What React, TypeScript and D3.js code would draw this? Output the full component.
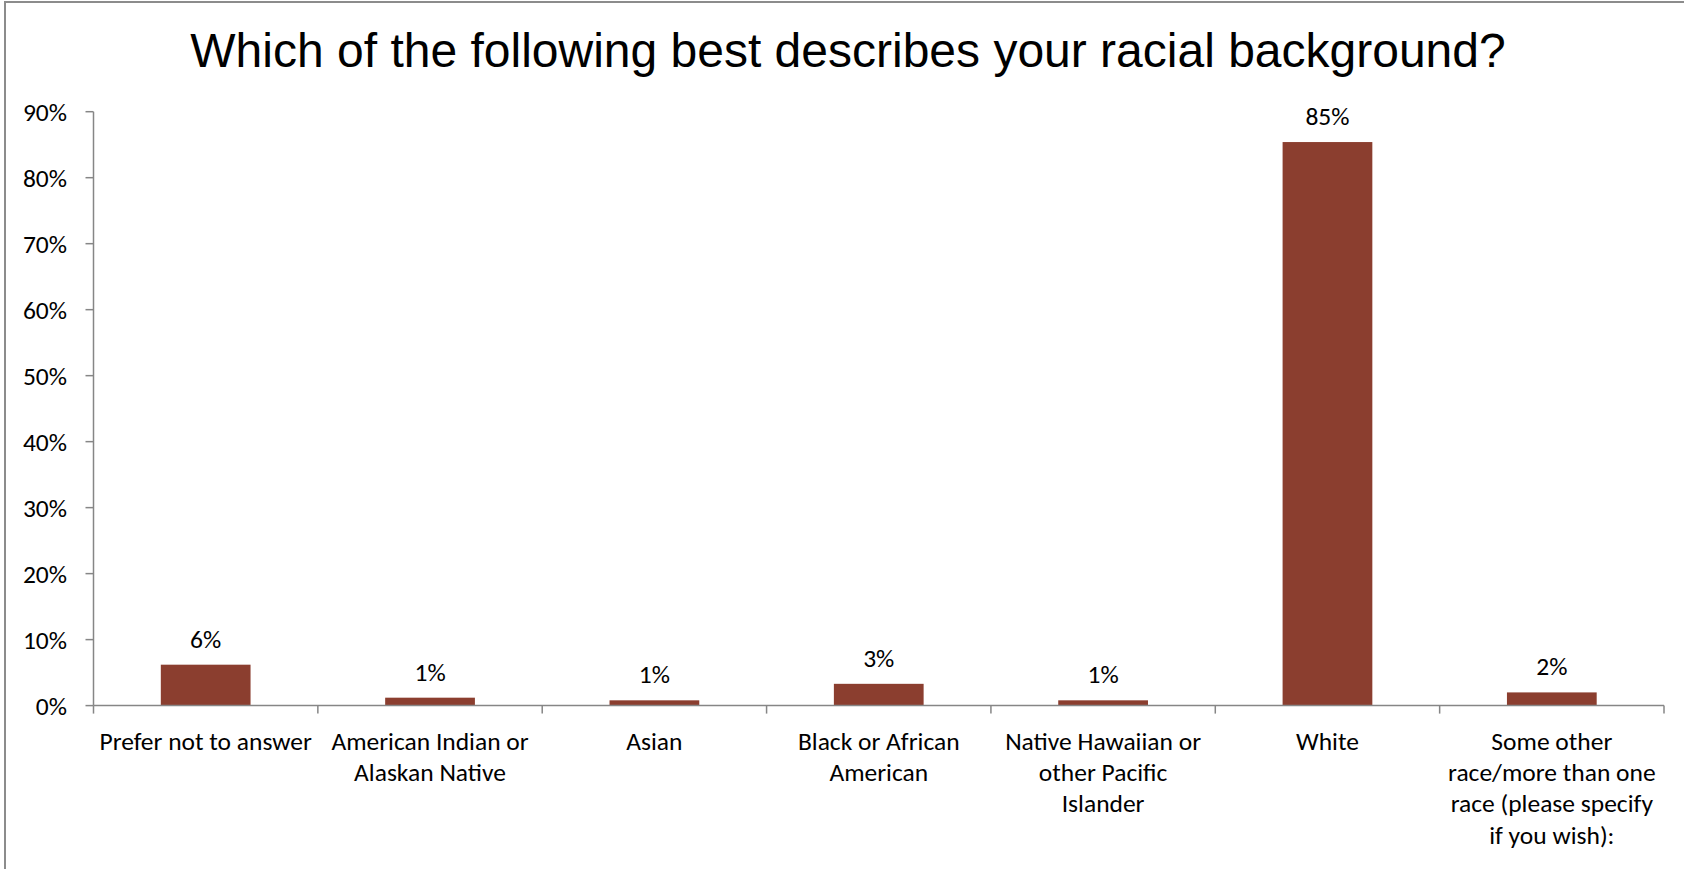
import React from "react";
import * as d3 from "d3";

const title = "Which of the following best describes your racial background?";
const categories = [
  "Prefer not to answer",
  "American Indian or Alaskan Native",
  "Asian",
  "Black or African American",
  "Native Hawaiian or other Pacific Islander",
  "White",
  "Some other race/more than one race (please specify if you wish):",
];
const categoryLines = [
  ["Prefer not to answer"],
  ["American Indian or", "Alaskan Native"],
  ["Asian"],
  ["Black or African", "American"],
  ["Native Hawaiian or", "other Pacific", "Islander"],
  ["White"],
  ["Some other", "race/more than one", "race (please specify", "if you wish):"],
];
const values = [0.062, 0.012, 0.008, 0.033, 0.008, 0.854, 0.02];
const yTicks = [0, 0.1, 0.2, 0.3, 0.4, 0.5, 0.6, 0.7, 0.8, 0.9];

const W = 1684;
const H = 869;
const left = 93.5;
const right = 1664;
const top = 111.7;
const bottom = 705.6;
const bodyFont = "Carlito, Calibri, Lato, 'Open Sans', sans-serif";
const bodySize = 25.5;
const barColor = "#8B3E2F";
const axisColor = "#868686";

export default function App() {
  const x = d3.scaleBand<string>().domain(categories).range([left, right]).paddingInner(0.6).paddingOuter(0.3);
  const xb = d3.scaleBand<string>().domain(categories).range([left, right]);
  const y = d3.scaleLinear().domain([0, 0.9]).range([bottom, top]);
  const fmt = d3.format(".0%");

  return (
    <svg width={W} height={H} style={{ position: "absolute", left: 0, top: 0, background: "#fff" }}>
      <rect x={5} y={2} width={W + 10} height={H + 10} fill="#fff" stroke="#8c8c8c" strokeWidth={2} />
      <text x={848} y={67} textAnchor="middle" fontFamily="'Liberation Sans', Arial, sans-serif" fontSize={48} fill="#000">
        {title}
      </text>
      {/* y axis */}
      <line x1={left} x2={left} y1={top} y2={bottom} stroke={axisColor} strokeWidth={1.5} />
      {yTicks.map((t) => (
        <g key={t}>
          <line x1={left - 8} x2={left} y1={y(t)} y2={y(t)} stroke={axisColor} strokeWidth={1.5} />
          <text x={67} y={y(t)} dy="0.35em" textAnchor="end" fontFamily={bodyFont} fontSize={bodySize} fill="#000">
            {fmt(t)}
          </text>
        </g>
      ))}
      {/* bars */}
      {categories.map((c, i) => (
        <rect key={c} x={x(c)} y={y(values[i])} width={x.bandwidth()} height={bottom - y(values[i])} fill={barColor} />
      ))}
      {/* value labels */}
      {categories.map((c, i) => (
        <text
          key={c}
          x={(x(c) as number) + x.bandwidth() / 2}
          y={y(values[i]) - 17}
          textAnchor="middle"
          fontFamily={bodyFont}
          fontSize={bodySize}
          fill="#000"
        >
          {fmt(values[i])}
        </text>
      ))}
      {/* x axis */}
      <line x1={left} x2={right} y1={bottom} y2={bottom} stroke={axisColor} strokeWidth={1.5} />
      {[...categories.map((c) => xb(c) as number), right].map((px, i) => (
        <line key={i} x1={px} x2={px} y1={bottom} y2={bottom + 8} stroke={axisColor} strokeWidth={1.5} />
      ))}
      {categories.map((c, i) => (
        <text
          key={c}
          x={(xb(c) as number) + xb.bandwidth() / 2}
          y={750}
          textAnchor="middle"
          fontFamily={bodyFont}
          fontSize={bodySize}
          fill="#000"
        >
          {categoryLines[i].map((ln, j) => (
            <tspan key={j} x={(xb(c) as number) + xb.bandwidth() / 2} dy={j === 0 ? 0 : 31.2}>
              {ln}
            </tspan>
          ))}
        </text>
      ))}
    </svg>
  );
}
